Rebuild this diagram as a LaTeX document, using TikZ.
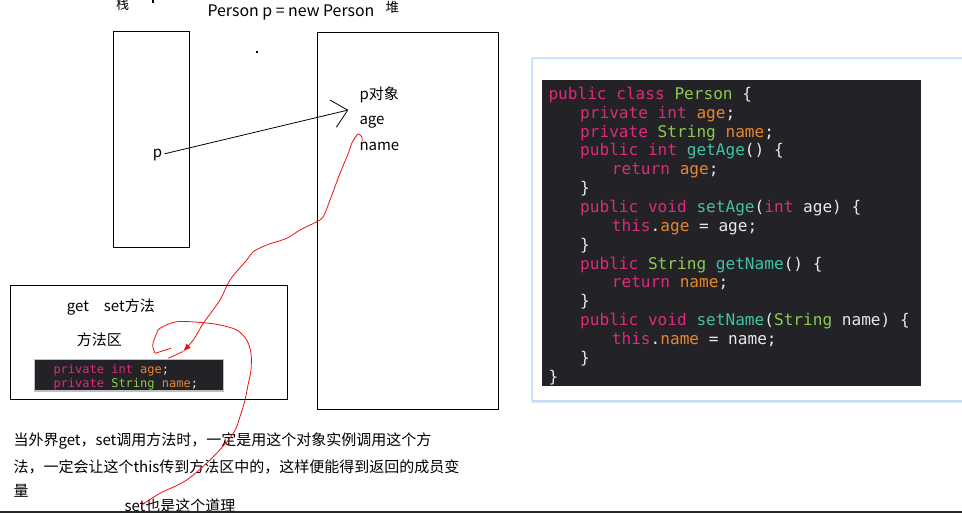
\documentclass[tikz,border=0pt]{standalone}
\usepackage{fontspec}
\setmainfont{Noto Sans CJK SC}
\newfontfamily\codefont{DejaVu Sans Mono}
\usetikzlibrary{arrows.meta}
\definecolor{codebg}{HTML}{232327}
\definecolor{ckwc}{HTML}{DE2A7B}
\definecolor{ctyc}{HTML}{8CCB4E}
\definecolor{cfdc}{HTML}{E8862E}
\definecolor{cfnc}{HTML}{3FC2A6}
\definecolor{cplain}{HTML}{E8E8E8}
\definecolor{panelborder}{HTML}{C4DBF7}
\definecolor{inkred}{HTML}{F01010}
\newcommand\ckw[1]{\textcolor{ckwc}{#1}}
\newcommand\cty[1]{\textcolor{ctyc}{#1}}
\newcommand\cfd[1]{\textcolor{cfdc}{#1}}
\newcommand\cfn[1]{\textcolor{cfnc}{#1}}
\begin{document}
\begin{tikzpicture}[x=1pt,y=-1pt,
  txt/.style={anchor=base west,inner sep=0pt,font=\fontsize{15}{18}\selectfont},
  codeline/.style={anchor=base west,inner sep=0pt,text=cplain,font=\codefont\fontsize{16.1}{18}\selectfont},
  smallcode/.style={anchor=base west,inner sep=0pt,text=cplain,font=\codefont\fontsize{12}{14}\selectfont},
  box/.style={draw=black,line width=0.9pt},
  redink/.style={draw=inkred,line width=0.8pt}]
\useasboundingbox (0,0) rectangle (962,513);
\fill[white] (0,0) rectangle (962,513);

% top labels
\node[txt,font=\fontsize{13}{15}\selectfont] (zhan) at (116,9.5) {栈};
\node[txt,font=\fontsize{15.9}{18}\selectfont] (title) at (207.3,16.7) {Person p = new Person};
\node[txt,font=\fontsize{13.5}{15}\selectfont] (dui) at (385.5,12.5) {堆};
\fill[black] (152,0) rectangle (154,3.5);
\fill[black] (256,51.5) rectangle (257.5,53);

% stack and heap
\draw[box] (113.3,31) rectangle (189.3,247.3);
\draw[box] (317,32.3) rectangle (498.3,409.3);
\node[txt] (p) at (152.7,157.3) {p};
\node[txt] (pobj) at (359.3,99.3) {p对象};
\node[txt] (age) at (359.3,125) {age};
\node[txt] (name) at (359.3,150.7) {name};
\coordinate (tip) at (348.3,110);
\draw[line width=0.8pt,-{Straight Barb[length=15pt,width=28pt,line width=0.8pt]}] (p.east) ++(2,-1) -- (tip);

% method area
\draw[box] (10.7,285.3) rectangle (287.3,399);
\node[txt] (getset) at (66.7,311.7) {get\hspace{1em}set方法};
\node[txt] (fangfaqu) at (76.7,345) {方法区};
\fill[black!25] (34,359) rectangle (223.7,391.5);
\fill[codebg] (35,360) rectangle (222.7,390);
\node[smallcode] (sc1) at (53.3,373.3) {\ckw{private} \ckw{int} \cfd{age};};
\node[smallcode] (sc2) at (53.3,387.3) {\ckw{private} \cty{String} \cfd{name};};

% code panel
\draw[panelborder!60,line width=3pt] (532.7,58.3) rectangle (975,401);
\draw[panelborder,line width=1.2pt,fill=white] (532.7,58.3) rectangle (975,401);
\fill[codebg] (541.7,80) rectangle (921,385.7);
\foreach \i/\ind/\t in {
  0/0/{\ckw{public} \ckw{class} \cty{Person} \{},
  1/1/{\ckw{private} \ckw{int} \cfd{age};},
  2/1/{\ckw{private} \cty{String} \cfd{name};},
  3/1/{\ckw{public} \ckw{int} \cfn{getAge}() \{},
  4/2/{\ckw{return} \cfd{age};},
  5/1/{\}},
  6/1/{\ckw{public} \ckw{void} \cfn{setAge}(\ckw{int} age) \{},
  7/2/{\ckw{this}.\cfd{age} = age;},
  8/1/{\}},
  9/1/{\ckw{public} \cty{String} \cfn{getName}() \{},
  10/2/{\ckw{return} \cfd{name};},
  11/1/{\}},
  12/1/{\ckw{public} \ckw{void} \cfn{setName}(\cty{String} name) \{},
  13/2/{\ckw{this}.\cfd{name} = name;},
  14/1/{\}},
  15/0/{\}}}
  \node[codeline] (c\i) at (548.3+\ind*31.7, 99.3+\i*18.87) {\t};

% bottom text
\node[txt] (l1) at (13.3,445.7) {当外界get，set调用方法时，一定是用这个对象实例调用这个方};
\node[txt] (l2) at (13.3,472.3) {法，一定会让这个this传到方法区中的，这样便能得到返回的成员变};
\node[txt] (l3) at (13.3,496.7) {量};
\node[txt] (l4) at (124.3,511.7) {set也是这个道理};
\fill[black!85] (0,510.5) rectangle (962,513);

% red hand-drawn curves
\draw[redink,-{Latex[length=8pt,width=6pt]}] plot[smooth,tension=0.55] coordinates {
  (362.3,141.7) (361.7,136.7) (358.3,134) (355.7,136.7) (351.7,143.3) (348.3,153.3)
  (340,173.3) (330,200) (323.3,216.7) (316.7,221.7) (300,230) (286.7,238.3)
  (266.7,245) (253.3,251.7) (246.7,260) (230,280) (220,300) (203.3,323.3)
  (193.3,340) (183,351.5)};
\draw[redink] (183,351.5) -- (168.3,358.3);
\draw[redink] (171,348.3) -- (155,353.3);
\draw[redink] plot[smooth,tension=0.55] coordinates {
  (155,353.3) (152.7,345) (156.7,333.3) (160,328.3) (176.7,321.7) (203.3,322.7)
  (220,325) (236.7,330) (246.7,340) (251,353.3) (251,370) (248,385) (245,400)
  (240,416.7) (233.3,433.3) (213.3,456.7) (186.7,480) (160,493.3) (141.7,505)};
\end{tikzpicture}
\end{document}
